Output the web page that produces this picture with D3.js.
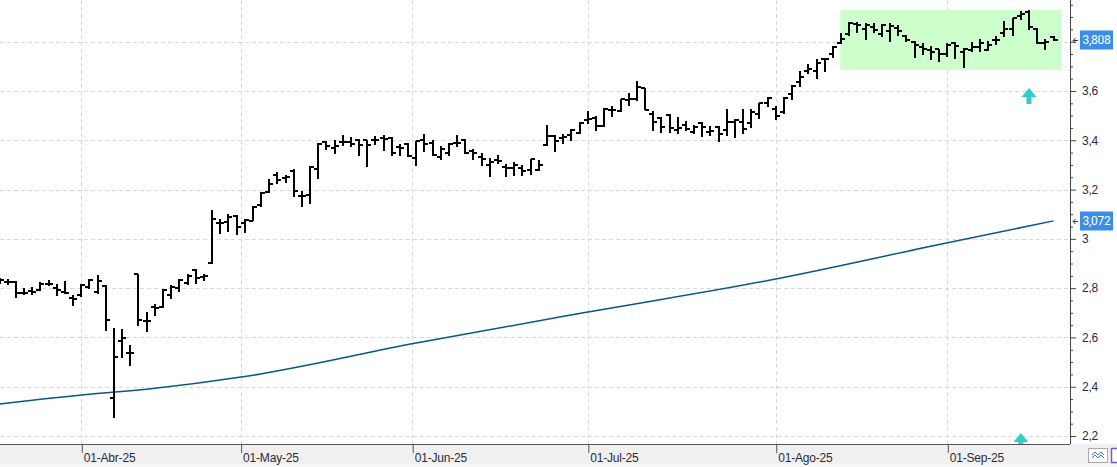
<!DOCTYPE html>
<html>
<head>
<meta charset="utf-8">
<script src="https://cdn.jsdelivr.net/npm/d3@7"></script>
<style>
  html, body { margin: 0; padding: 0; background: #fff; }
  svg { display: block; font-family: "Segoe UI", Roboto, "Noto Sans", sans-serif; }
</style>
</head>
<body>
<svg id="chart"></svg>
<script>
// Daily bars, from 18-Mar-25 (index 0) to 18-Sep-25 (index 129)
const opens = [2.825,2.824,2.824,2.779,2.787,2.793,2.815,2.799,2.784,2.762,
  2.772,2.803,2.786,2.809,2.353,2.586,2.536,2.856,2.668,2.724,
  2.722,2.772,2.801,2.820,2.874,2.846,2.901,3.066,3.069,3.093,
  3.066,3.074,3.138,3.192,3.259,3.247,3.276,3.175,3.178,3.284,
  3.392,3.369,3.392,3.392,3.401,3.400,3.400,3.411,3.411,3.372,
  3.384,3.329,3.403,3.388,3.334,3.350,3.387,3.401,3.358,3.334,
  3.300,3.318,3.293,3.286,3.286,3.280,3.280,3.381,3.418,3.411,
  3.422,3.429,3.482,3.492,3.458,3.522,3.520,3.565,3.566,3.611,
  3.507,3.492,3.503,3.442,3.462,3.435,3.472,3.434,3.453,3.442,
  3.476,3.476,3.472,3.507,3.553,3.527,3.516,3.588,3.638,3.683,
  3.683,3.728,3.750,3.794,3.830,3.872,3.851,3.861,3.832,3.845,
  3.857,3.823,3.800,3.780,3.767,3.769,3.750,3.795,3.760,3.767,
  3.780,3.767,3.806,3.834,3.851,3.905,3.922,3.851,3.795,3.821];
const highs = [2.841,2.837,2.826,2.799,2.803,2.821,2.833,2.813,2.825,2.772,
  2.816,2.835,2.851,2.810,2.637,2.633,2.569,2.857,2.702,2.735,
  2.793,2.809,2.836,2.857,2.875,2.857,3.114,3.079,3.100,3.094,
  3.079,3.131,3.187,3.239,3.270,3.259,3.280,3.192,3.293,3.385,
  3.397,3.401,3.419,3.411,3.402,3.401,3.415,3.419,3.412,3.384,
  3.385,3.397,3.422,3.398,3.374,3.388,3.418,3.402,3.364,3.345,
  3.327,3.340,3.300,3.309,3.296,3.324,3.320,3.458,3.419,3.422,
  3.445,3.472,3.516,3.496,3.527,3.536,3.567,3.588,3.638,3.612,
  3.516,3.493,3.504,3.493,3.476,3.462,3.473,3.455,3.456,3.523,
  3.484,3.523,3.523,3.551,3.575,3.536,3.572,3.621,3.678,3.706,
  3.729,3.733,3.781,3.834,3.877,3.877,3.872,3.872,3.869,3.875,
  3.864,3.827,3.801,3.794,3.780,3.770,3.794,3.796,3.773,3.796,
  3.810,3.800,3.821,3.881,3.895,3.922,3.926,3.852,3.810,3.823];
const lows = [2.817,2.813,2.761,2.775,2.775,2.791,2.811,2.770,2.778,2.730,
  2.766,2.799,2.779,2.627,2.276,2.518,2.485,2.648,2.623,2.691,
  2.721,2.759,2.786,2.813,2.817,2.833,2.900,3.023,3.029,3.019,
  3.025,3.073,3.131,3.187,3.226,3.228,3.171,3.131,3.144,3.246,
  3.361,3.347,3.378,3.374,3.338,3.293,3.384,3.357,3.338,3.338,
  3.334,3.297,3.354,3.340,3.323,3.340,3.374,3.347,3.323,3.296,
  3.252,3.304,3.252,3.259,3.259,3.263,3.277,3.380,3.354,3.385,
  3.398,3.426,3.469,3.439,3.455,3.496,3.516,3.543,3.561,3.523,
  3.439,3.431,3.431,3.429,3.439,3.429,3.415,3.418,3.394,3.418,
  3.412,3.429,3.453,3.489,3.536,3.483,3.510,3.566,3.618,3.669,
  3.652,3.678,3.737,3.791,3.827,3.838,3.810,3.837,3.823,3.800,
  3.827,3.800,3.737,3.750,3.729,3.719,3.742,3.733,3.696,3.760,
  3.760,3.764,3.787,3.823,3.827,3.891,3.851,3.794,3.769,3.803];
const closes = [2.833,2.823,2.782,2.781,2.785,2.817,2.815,2.793,2.782,2.756,
  2.813,2.833,2.830,2.671,2.519,2.597,2.536,2.671,2.666,2.719,
  2.791,2.806,2.833,2.851,2.840,2.848,3.079,3.066,3.089,3.047,
  3.077,3.129,3.186,3.222,3.239,3.249,3.194,3.175,3.291,3.384,
  3.377,3.378,3.394,3.384,3.381,3.381,3.402,3.405,3.347,3.368,
  3.335,3.397,3.385,3.341,3.364,3.385,3.389,3.347,3.347,3.323,
  3.313,3.316,3.286,3.300,3.277,3.323,3.300,3.418,3.398,3.413,
  3.442,3.470,3.485,3.458,3.526,3.524,3.566,3.567,3.618,3.523,
  3.473,3.453,3.449,3.449,3.445,3.455,3.453,3.436,3.426,3.476,
  3.483,3.445,3.516,3.550,3.571,3.499,3.571,3.620,3.656,3.688,
  3.715,3.730,3.780,3.810,3.875,3.868,3.868,3.848,3.868,3.864,
  3.845,3.807,3.787,3.771,3.760,3.750,3.787,3.783,3.769,3.780,
  3.794,3.787,3.808,3.851,3.895,3.913,3.859,3.796,3.797,3.808];

// long moving average, read at a few bars
const maIndex = [0, 11, 18, 30, 51, 72, 95, 115, 129];
const maValue = [2.330, 2.369, 2.390, 2.441, 2.577, 2.703, 2.837, 2.977, 3.073];

// month labels and their bar positions (half steps when the 1st is not a session)
const monthLabels = ["01-Abr-25", "01-May-25", "01-Jun-25", "01-Jul-25", "01-Ago-25", "01-Sep-25"];
const monthPos = [10, 29.5, 50.5, 72, 95, 116];

// highlighted zone and signal arrows
const zoneFrom = 102.9, zoneTo = 130.0, zoneTop = 3.929, zoneBottom = 3.685;
const arrowIndex = [126, 125];
const arrowValue = [3.612, 2.212];

const W = 1117, H = 467;
const plotRight = 1070, plotBottom = 444;

const svg = d3.select("#chart").attr("width", W).attr("height", H);

const x = d3.scaleLinear().domain([10, 116]).range([81.3, 947.3]);
const y = d3.scaleLinear().domain([2.2, 3.6]).range([436, 91]);

// bottom strip
svg.append("rect").attr("x", 0).attr("y", plotBottom).attr("width", W).attr("height", 20).attr("fill", "#f0f0f0");
svg.append("rect").attr("x", 0).attr("y", plotBottom + 20).attr("width", W).attr("height", 3).attr("fill", "#f7f7f7");

const plot = svg.append("g");
plot.append("clipPath").attr("id", "clip")
  .append("rect").attr("x", 0).attr("y", 0).attr("width", plotRight).attr("height", plotBottom);

// grid
const gridVals = d3.range(2.2, 3.81, 0.2);
plot.selectAll(".hgrid").data(gridVals).join("line")
  .attr("x1", 0).attr("x2", plotRight)
  .attr("y1", d => Math.round(y(d)) + 0.5).attr("y2", d => Math.round(y(d)) + 0.5)
  .attr("stroke", "#d9d9d9").attr("stroke-dasharray", "4,3");
plot.selectAll(".vgrid").data(monthPos).join("line")
  .attr("x1", d => Math.round(x(d)) + 0.5).attr("x2", d => Math.round(x(d)) + 0.5)
  .attr("y1", 0).attr("y2", plotBottom)
  .attr("stroke", "#d9d9d9").attr("stroke-dasharray", "4,3");

const inner = plot.append("g").attr("clip-path", "url(#clip)");

// zone
inner.append("rect")
  .attr("x", x(zoneFrom)).attr("width", x(zoneTo) - x(zoneFrom))
  .attr("y", y(zoneTop)).attr("height", y(zoneBottom) - y(zoneTop))
  .attr("fill", "#ccffcc");

// moving average
const maPts = maIndex.map((k, i) => [x(k), y(maValue[i])]);
inner.append("path")
  .attr("d", d3.line().curve(d3.curveMonotoneX)(maPts))
  .attr("fill", "none").attr("stroke", "#0b5685").attr("stroke-width", 1.5);

// OHLC bars
const bars = d3.range(opens.length).map(i => ({ k: i, o: opens[i], h: highs[i], l: lows[i], c: closes[i] }));
const barG = inner.append("g").attr("stroke", "#000").attr("stroke-width", 2).attr("shape-rendering", "crispEdges");
barG.selectAll("path").data(bars).join("path")
  .attr("d", d => {
    const cx = Math.round(x(d.k));
    const yo = Math.round(y(d.o)), yc = Math.round(y(d.c));
    return `M${cx},${y(d.h) - 0.5}V${y(d.l) + 0.5}M${cx - 4},${yo}H${cx}M${cx},${yc}H${cx + 4}`;
  })
  .attr("fill", "none");

// arrows
inner.selectAll(".arrow").data(arrowIndex).join("path")
  .attr("d", (k, i) => {
    const cx = x(k), ty = y(arrowValue[i]);
    return `M${cx},${ty}L${cx + 7.5},${ty + 9}H${cx + 2.5}V${ty + 16}H${cx - 2.5}V${ty + 9}H${cx - 7.5}Z`;
  })
  .attr("fill", "#33cccc");

// bottom axis
const xAxis = svg.append("g").attr("transform", `translate(0,${plotBottom})`)
  .call(d3.axisBottom(x).tickValues(monthPos).tickFormat((d, i) => monthLabels[i])
    .tickSize(9).tickPadding(0).tickSizeOuter(0));
xAxis.select(".domain").attr("d", `M0,0.5H${plotRight}`).attr("stroke", "#555");
xAxis.selectAll(".tick line").attr("stroke", "#555").attr("transform", "translate(0.5,0)");
xAxis.selectAll(".tick text")
  .attr("x", 2).attr("text-anchor", "start")
  .attr("fill", "#2b2b3a").style("font-size", "12px").style("letter-spacing", "-0.2px");

// last value boxes
const lastClose = closes[closes.length - 1];
const lastMa = maValue[maValue.length - 1];
const tags = [{ v: lastClose, t: "3,808" }, { v: lastMa, t: "3,072" }];

// right axis (a label under a value box is hidden)
const isMajor = d => Math.round(d * 20) % 4 === 0;
const hidden = d => tags.some(t => Math.abs(y(t.v) - y(d)) < 10);
const yTicks = d3.range(44, 80).map(v => v * 0.05);
const yAxis = svg.append("g").attr("transform", `translate(${plotRight},0)`)
  .call(d3.axisRight(y).tickValues(yTicks).tickSize(6).tickPadding(6)
    .tickFormat(d => isMajor(d) && !hidden(d) ? d3.format(".1~f")(d).replace(".", ",") : ""));
yAxis.select(".domain").attr("d", `M0.5,0V${plotBottom}`).attr("stroke", "#444");
yAxis.selectAll(".tick line")
  .attr("x2", d => isMajor(d) ? 6 : 3)
  .attr("stroke", "#444");
yAxis.selectAll(".tick text")
  .attr("fill", "#2b2b3a").style("font-size", "12px").style("letter-spacing", "-0.2px");

const tagG = svg.selectAll(".tag").data(tags).join("g")
  .attr("transform", d => `translate(${plotRight},${Math.round(y(d.v))})`);
tagG.append("rect").attr("x", 10).attr("y", -9.5).attr("width", 33).attr("height", 19).attr("fill", "#3a8ee6");
tagG.append("text").attr("x", 26.5).attr("y", 4).attr("text-anchor", "middle")
  .attr("fill", "#fff").style("font-size", "12px").style("letter-spacing", "-0.3px").text(d => d.t);
tagG.append("path").attr("d", "M3.5,0.5H8M5.5,-2L3,0.5L5.5,3")
  .attr("fill", "none").attr("stroke", "#333").attr("stroke-width", 1);

// corner buttons
svg.append("rect").attr("x", 1088.5).attr("y", 448.5).attr("width", 19).attr("height", 14)
  .attr("fill", "#fff").attr("stroke", "#aaa");
svg.append("path").attr("d", "M1092,455l3,-3l3,3l3,-3l3,3M1092,458l3,-3l3,3l3,-3l3,3")
  .attr("fill", "none").attr("stroke", "#3a7fc6").attr("stroke-width", 1);
svg.append("rect").attr("x", 1111.5).attr("y", 448.5).attr("width", 8).attr("height", 14)
  .attr("fill", "#fff").attr("stroke", "#7b57d3").attr("stroke-width", 1.5);
</script>
</body>
</html>
